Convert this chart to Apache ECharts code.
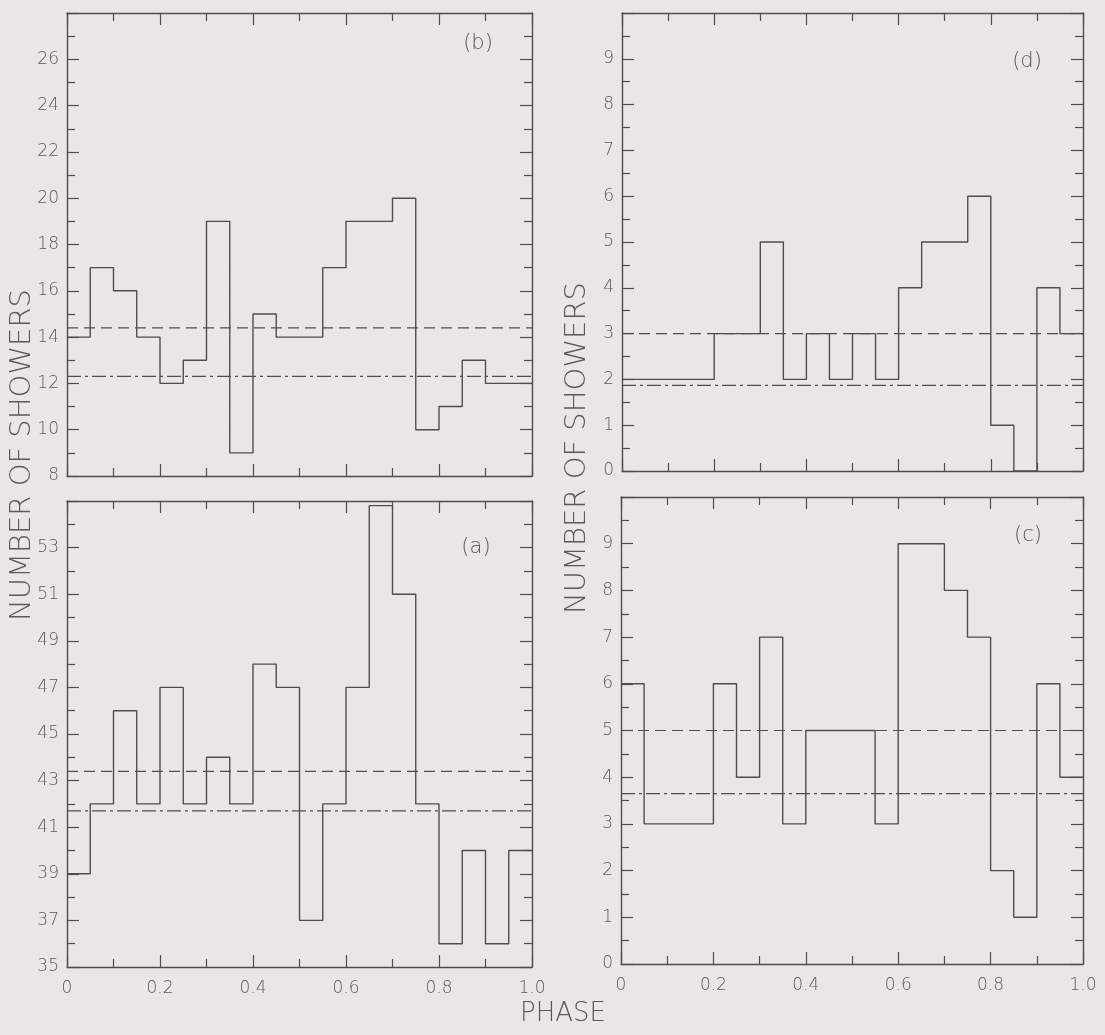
<!DOCTYPE html>
<html>
<head>
<meta charset="utf-8">
<script src="https://cdn.jsdelivr.net/npm/echarts@6/dist/echarts.min.js"></script>
<style>
  html, body { margin: 0; padding: 0; background: #e9e6e4; }
  #chart { width: 1105px; height: 1035px; }
</style>
</head>
<body>
<div id="chart"></div>
<script>
// ---- data ----
const phaseEdges = [0, 0.05, 0.1, 0.15, 0.2, 0.25, 0.3, 0.35, 0.4, 0.45, 0.5,
                    0.55, 0.6, 0.65, 0.7, 0.75, 0.8, 0.85, 0.9, 0.95, 1.0];
const countsB = [14, 17, 16, 14, 12, 13, 19, 9, 15, 14, 14, 17, 19, 19, 20, 10, 11, 13, 12, 12];
const countsA = [39, 42, 46, 42, 47, 42, 44, 42, 48, 47, 37, 42, 47, 54.8, 51, 42, 36, 40, 36, 40];
const countsD = [2, 2, 2, 2, 3, 3, 5, 2, 3, 2, 3, 2, 4, 5, 5, 6, 1, 0, 4, 3];
const countsC = [6, 3, 3, 3, 6, 4, 7, 3, 5, 5, 5, 3, 9, 9, 8, 7, 2, 1, 6, 4];
const dashedLevels  = [14.4, 43.4, 3.0, 5.0];   // b, a, d, c
const dashDotLevels = [12.3, 41.7, 1.87, 3.65]; // b, a, d, c
const panelLabels = ['(b)', '(a)', '(d)', '(c)'];
const xTickLabels = ['0', '0.2', '0.4', '0.6', '0.8', '1.0'];
const yRanges = [[8, 28, 2], [35, 55, 2], [0, 10, 1], [0, 10, 1]];
const yTitle = 'NUMBER OF SHOWERS';
const xTitle = 'PHASE';

// ---- styling ----
const ink = '#4e4e4e';
const textColor = '#5a5a5a';
const fontFamily = 'DejaVu Sans';
const fw = 200;

const panels = [
  { counts: countsB, grid: { left: 67,  top: 13,  width: 465, height: 463 }, xLabels: false, label: [478, 44] },
  { counts: countsA, grid: { left: 67,  top: 501, width: 465, height: 466 }, xLabels: true,  label: [476, 548] },
  { counts: countsD, grid: { left: 622, top: 13,  width: 461, height: 458 }, xLabels: false, label: [1027, 62] },
  { counts: countsC, grid: { left: 621, top: 497, width: 462, height: 467 }, xLabels: true,  label: [1028, 536] }
];

const grids = [], xAxes = [], yAxes = [], series = [], graphics = [];

function tickStyle() { return { color: ink, width: 1.2 }; }

panels.forEach((p, i) => {
  grids.push(Object.assign({ containLabel: false }, p.grid));
  ['bottom', 'top'].forEach((pos) => {
    const showLab = pos === 'bottom' && p.xLabels;
    xAxes.push({
      type: 'value', gridIndex: i, position: pos, min: 0, max: 1, interval: 0.2,
      axisLine: { show: true, onZero: false, lineStyle: { color: ink, width: 1.4 } },
      axisTick: { show: true, inside: true, length: 12, lineStyle: tickStyle() },
      minorTick: { show: true, splitNumber: 2, length: 8, lineStyle: tickStyle() },
      axisLabel: {
        show: showLab, margin: 13, color: textColor, fontSize: 17, fontFamily, fontWeight: fw,
        formatter: (v) => xTickLabels[Math.round(v * 5)]
      },
      splitLine: { show: false }, minorSplitLine: { show: false }
    });
  });
  const [ymin, ymax, yint] = yRanges[i];
  ['left', 'right'].forEach((pos) => {
    yAxes.push({
      type: 'value', gridIndex: i, position: pos, min: ymin, max: ymax, interval: yint,
      axisLine: { show: true, onZero: false, lineStyle: { color: ink, width: 1.4 } },
      axisTick: { show: true, inside: true, length: 12, lineStyle: tickStyle() },
      minorTick: { show: true, splitNumber: 2, length: 8, lineStyle: tickStyle() },
      axisLabel: {
        show: pos === 'left', margin: 8, color: textColor, fontSize: 17, fontFamily, fontWeight: fw,
        showMaxLabel: false
      },
      splitLine: { show: false }, minorSplitLine: { show: false }
    });
  });
  const xi = i * 2, yi = i * 2;
  const stepData = p.counts.map((c, k) => [phaseEdges[k], c]);
  stepData.push([phaseEdges[phaseEdges.length - 1], p.counts[p.counts.length - 1]]);
  series.push({
    type: 'line', xAxisIndex: xi, yAxisIndex: yi, data: stepData, step: 'end',
    symbol: 'none', lineStyle: { color: ink, width: 1.4 }, silent: true, animation: false
  });
  series.push({
    type: 'line', xAxisIndex: xi, yAxisIndex: yi,
    data: [[phaseEdges[0], dashedLevels[i]], [phaseEdges[phaseEdges.length - 1], dashedLevels[i]]],
    symbol: 'none', lineStyle: { color: ink, width: 1.2, type: [11, 6] }, silent: true, animation: false
  });
  series.push({
    type: 'line', xAxisIndex: xi, yAxisIndex: yi,
    data: [[phaseEdges[0], dashDotLevels[i]], [phaseEdges[phaseEdges.length - 1], dashDotLevels[i]]],
    symbol: 'none', lineStyle: { color: ink, width: 1.2, type: [14, 4, 3, 4] }, silent: true, animation: false
  });
  graphics.push({
    type: 'text', x: p.label[0], y: p.label[1], silent: true,
    style: { text: panelLabels[i], fill: textColor, font: fw + ' 21px ' + fontFamily,
             align: 'center', verticalAlign: 'middle', textAlign: 'center', textVerticalAlign: 'middle' }
  });
});

graphics.push({
  type: 'text', x: 22, y: 455, rotation: Math.PI / 2, silent: true,
  style: { text: yTitle, fill: textColor, font: fw + ' 29px ' + fontFamily,
           align: 'center', verticalAlign: 'middle', textAlign: 'center', textVerticalAlign: 'middle' }
});
graphics.push({
  type: 'text', x: 577, y: 448, rotation: Math.PI / 2, silent: true,
  style: { text: yTitle, fill: textColor, font: fw + ' 29px ' + fontFamily,
           align: 'center', verticalAlign: 'middle', textAlign: 'center', textVerticalAlign: 'middle' }
});
graphics.push({
  type: 'text', x: 563, y: 1014, silent: true,
  style: { text: xTitle, fill: textColor, font: fw + ' 26px ' + fontFamily,
           align: 'center', verticalAlign: 'middle', textAlign: 'center', textVerticalAlign: 'middle' }
});

const chart = echarts.init(document.getElementById('chart'), null, { renderer: 'canvas' });
chart.setOption({
  backgroundColor: '#e9e6e4',
  animation: false,
  grid: grids,
  xAxis: xAxes,
  yAxis: yAxes,
  series: series,
  graphic: graphics
});
</script>
</body>
</html>
